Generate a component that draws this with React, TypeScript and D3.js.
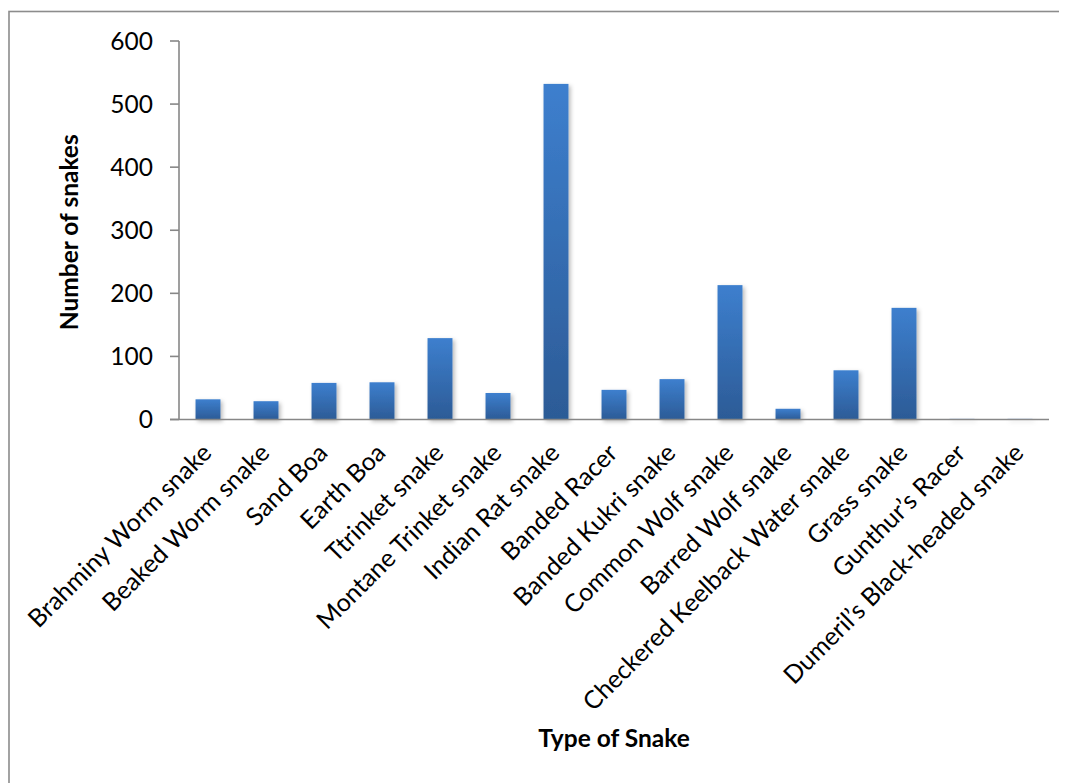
import React from "react";
import * as d3 from "d3";

const categories: string[] = [
  "Brahminy Worm snake",
  "Beaked Worm snake",
  "Sand Boa",
  "Earth Boa",
  "Ttrinket snake",
  "Montane Trinket snake",
  "Indian Rat snake",
  "Banded Racer",
  "Banded Kukri snake",
  "Common Wolf snake",
  "Barred Wolf snake",
  "Checkered Keelback Water snake",
  "Grass snake",
  "Gunthur\u2019s Racer",
  "Dumeril\u2019s Black-headed snake",
];

const counts: number[] = [32, 29, 58, 59, 129, 42, 532, 47, 64, 213, 17, 78, 177, 1, 1];

const yTicks: number[] = [0, 100, 200, 300, 400, 500, 600];

const yTitle = "Number of snakes";
const xTitle = "Type of Snake";

const W = 1059;
const H = 775;
const plot = { left: 171, right: 1041, top: 33, bottom: 411.5 };
const font = "Lato, 'Open Sans', sans-serif";

export default function App() {
  const x = d3
    .scaleBand<string>()
    .domain(categories)
    .range([plot.left, plot.right])
    .paddingInner(0.57)
    .paddingOuter(0.285);
  const y = d3.scaleLinear().domain([0, 600]).range([plot.bottom, plot.top]);

  return (
    <svg width={W} height={H} style={{ display: "block" }}>
      <defs>
        <linearGradient id="barFill" x1="0" y1="0" x2="0" y2="1">
          <stop offset="0%" stopColor="#3d7fce" />
          <stop offset="100%" stopColor="#2c5b96" />
        </linearGradient>
        <filter id="barShadow" x="-30%" y="-10%" width="170%" height="130%">
          <feDropShadow dx="2" dy="2" stdDeviation="2" floodColor="#000" floodOpacity="0.28" />
        </filter>
      </defs>
      <rect x={0} y={0} width={W} height={H} fill="#fff" />
      {/* chart frame */}
      <rect x={1} y={3.5} width={W + 20} height={H + 20} fill="none" stroke="#8c8c8c" strokeWidth={1.6} />

      {/* bars */}
      <g filter="url(#barShadow)">
        {categories.map((c, i) => (
          <rect
            key={c}
            x={x(c)}
            y={y(counts[i])}
            width={x.bandwidth()}
            height={plot.bottom - y(counts[i])}
            fill="url(#barFill)"
          />
        ))}
      </g>

      {/* y axis */}
      <line x1={plot.left} x2={plot.left} y1={plot.top} y2={plot.bottom} stroke="#878787" strokeWidth={1.6} />
      {yTicks.map((t) => (
        <g key={t}>
          <line x1={plot.left - 9} x2={plot.left} y1={y(t)} y2={y(t)} stroke="#878787" strokeWidth={1.6} />
          <text
            x={plot.left - 26}
            y={y(t)}
            dy="0.36em"
            textAnchor="end"
            fontFamily={font}
            fontSize={24.5}
            fill="#000"
          >
            {t}
          </text>
        </g>
      ))}

      {/* x axis */}
      <line x1={plot.left - 9} x2={plot.right} y1={plot.bottom} y2={plot.bottom} stroke="#878787" strokeWidth={1.6} />
      {categories.map((c) => {
        const cx = (x(c) as number) + x.bandwidth() / 2 + 5;
        const cy = plot.bottom + 35;
        return (
          <text
            key={c}
            x={cx}
            y={cy}
            textAnchor="end"
            transform={`rotate(-45 ${cx} ${cy})`}
            fontFamily={font}
            fontSize={25}
            fill="#000"
          >
            {c}
          </text>
        );
      })}

      {/* axis titles */}
      <text
        transform={`translate(61, ${(plot.top + plot.bottom) / 2 + 2}) rotate(-90)`}
        textAnchor="middle"
        dy="0.35em"
        fontFamily={font}
        fontWeight="bold"
        fontSize={24.5}
        fill="#000"
      >
        {yTitle}
      </text>
      <text
        x={(plot.left + plot.right) / 2}
        y={739}
        textAnchor="middle"
        fontFamily={font}
        fontWeight="bold"
        fontSize={24.5}
        fill="#000"
      >
        {xTitle}
      </text>
    </svg>
  );
}
